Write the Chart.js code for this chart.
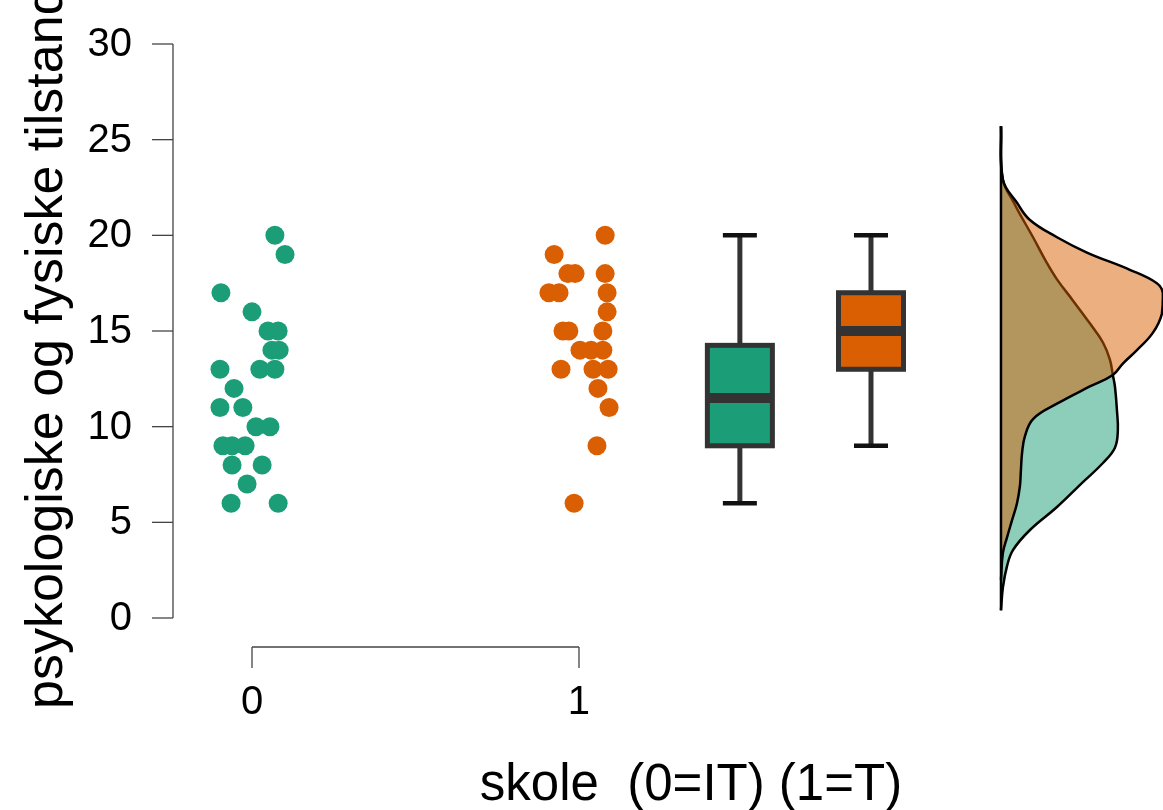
<!DOCTYPE html>
<html>
<head>
<meta charset="utf-8">
<script src="https://cdn.jsdelivr.net/npm/chart.js@4.4.1/dist/chart.umd.min.js"></script>
<style>
  html, body { margin: 0; padding: 0; background: #fff; overflow: hidden; }
  #wrap { width: 1163px; height: 810px; }
  canvas { display: block; }
</style>
</head>
<body>
<div id="wrap"><canvas id="chart" width="1163" height="810"></canvas></div>
<script>
// Raincloud plot: skole (0=IT) vs (1=T)

const groups = ['0', '1'];
const xTitle = 'skole  (0=IT) (1=T)';
const yTitle = 'psykologiske og fysiske tilstand';
const yTicks = [0, 5, 10, 15, 20, 25, 30];

const green = '#1b9e77';
const orange = '#d95f02';

// scores, with the jitter they were drawn with
const scoresIT = [20, 19, 17, 16, 15, 15, 14, 14, 13, 13, 13, 12, 11, 11, 10, 10, 9, 9, 9, 8, 8, 7, 6, 6];
const jitterIT = [0.070, 0.101, -0.095, 0.0, 0.049, 0.080, 0.061, 0.083, -0.098, 0.024, 0.070, -0.055,
    -0.098, -0.028, 0.012, 0.055, -0.089, -0.061, -0.021, -0.061, 0.031, -0.015, -0.064, 0.080];

const scoresT = [20, 19, 18, 18, 18, 17, 17, 17, 16, 15, 15, 15, 14, 14, 14, 13, 13, 13, 12, 11, 9, 6];
const jitterT = [0.080, -0.076, -0.034, -0.012, 0.080, -0.092, -0.061, 0.086, 0.086, -0.049, -0.031, 0.073,
    0.003, 0.037, 0.073, -0.055, 0.043, 0.089, 0.058, 0.092, 0.055, -0.015];

// box plot stats
const boxPos = [1.492, 1.893];
const boxMin = [6, 9];
const boxQ1 = [9, 13];
const boxMedian = [11.5, 15];
const boxQ3 = [14.25, 17];
const boxMax = [20, 20];

// half-violin (density): level -> relative density
const densLevelsIT = [25.7, 22.9, 21.7, 21.2, 19.9, 18.55, 17.7, 16.6, 15.4, 14.4, 13.5, 12.7, 12.1,
    10.9, 9.8, 8.9, 8.1, 7.1, 5.8, 4.6, 3.55, 2.7, 1.6, 0.4];
const densIT = [0, 0.012, 0.08, 0.111, 0.198, 0.284, 0.346, 0.444, 0.549, 0.630, 0.673, 0.691, 0.704,
    0.716, 0.722, 0.704, 0.630, 0.506, 0.346, 0.179, 0.074, 0.037, 0.012, 0];
const densLevelsT = [25.7, 22.9, 21.7, 20.8, 19.9, 19.1, 18.2, 17.5, 17.0, 15.9, 14.9, 14.0, 13.3, 12.7,
    12.1, 11.2, 10.4, 9.5, 8.6, 7.7, 6.9, 6.0, 5.1, 4.2, 3.4, 2.0];
const densT = [0, 0.012, 0.099, 0.179, 0.346, 0.531, 0.796, 0.963, 1.0, 0.994, 0.938, 0.840, 0.753, 0.691,
    0.549, 0.346, 0.198, 0.148, 0.130, 0.123, 0.117, 0.099, 0.068, 0.037, 0.012, 0];
const densBase = 2.2905;
const densWidth = 0.495;

const font = '"Liberation Sans", Arial, sans-serif';

function dots(scores, jitter, g) {
    return scores.map((s, i) => ({ x: g + jitter[i], y: s }));
}

function curve(levels, dens) {
    return levels.map((l, i) => ({ x: densBase + dens[i] * densWidth, y: l }));
}

const axesPlugin = {
    id: 'rainAxes',
    afterDatasetsDraw(chart) {
        const ctx = chart.ctx;
        const xs = chart.scales.x;
        const ys = chart.scales.y;
        const colors = [green, orange];

        const line = (x1, y1, x2, y2) => {
            ctx.beginPath();
            ctx.moveTo(x1, y1);
            ctx.lineTo(x2, y2);
            ctx.stroke();
        };

        ctx.save();
        // box plots
        boxPos.forEach((p, i) => {
            const cx = xs.getPixelForValue(p);
            const half = 32.5;
            const yMin = ys.getPixelForValue(boxMin[i]);
            const yQ1 = ys.getPixelForValue(boxQ1[i]);
            const yMed = ys.getPixelForValue(boxMedian[i]);
            const yQ3 = ys.getPixelForValue(boxQ3[i]);
            const yMax = ys.getPixelForValue(boxMax[i]);

            ctx.strokeStyle = '#333';
            ctx.lineWidth = 5;
            line(cx, yMax, cx, yQ3);
            line(cx, yQ1, cx, yMin);

            ctx.strokeStyle = '#111';
            ctx.lineWidth = 4.5;
            line(cx - 17, yMax, cx + 17, yMax);
            line(cx - 17, yMin, cx + 17, yMin);

            ctx.fillStyle = colors[i];
            ctx.fillRect(cx - half, yQ3, half * 2, yQ1 - yQ3);
            ctx.strokeStyle = '#333';
            ctx.lineWidth = 5;
            ctx.strokeRect(cx - half, yQ3, half * 2, yQ1 - yQ3);

            ctx.lineWidth = 10;
            line(cx - half, yMed, cx + half, yMed);
        });

        // y axis
        const ax = chart.chartArea.left;
        ctx.strokeStyle = '#444';
        ctx.lineWidth = 1.3;
        line(ax, ys.getPixelForValue(yTicks[0]), ax, ys.getPixelForValue(yTicks[yTicks.length - 1]));
        ctx.fillStyle = '#000';
        ctx.font = '40px ' + font;
        ctx.textAlign = 'right';
        ctx.textBaseline = 'middle';
        yTicks.forEach(t => {
            const y = ys.getPixelForValue(t);
            line(ax - 21, y, ax, y);
            ctx.fillText(String(t), ax - 41, y + 1);
        });

        // x axis
        const ay = chart.chartArea.bottom + 29;
        const x0 = xs.getPixelForValue(0);
        const x1 = xs.getPixelForValue(groups.length - 1);
        line(x0, ay, x1, ay);
        ctx.textAlign = 'center';
        groups.forEach((g, i) => {
            const x = xs.getPixelForValue(i);
            line(x, ay, x, ay + 21);
            ctx.fillText(g, x, ay + 56);
        });

        // titles
        ctx.font = '51px ' + font;
        ctx.textBaseline = 'alphabetic';
        ctx.fillText(xTitle, 691, 800);

        ctx.font = '52px ' + font;
        ctx.translate(62, 709);
        ctx.rotate(-Math.PI / 2);
        ctx.textAlign = 'left';
        ctx.fillText(yTitle, 0, 0);
        ctx.restore();
    }
};

new Chart(document.getElementById('chart'), {
    type: 'scatter',
    data: {
        datasets: [
            {
                label: 'density IT',
                type: 'line',
                data: curve(densLevelsIT, densIT),
                borderColor: '#000',
                borderWidth: 2.5,
                backgroundColor: 'rgba(27,158,119,0.5)',
                fill: 'shape',
                tension: 0.4,
                pointRadius: 0,
                clip: false,
                order: 5
            },
            {
                label: 'density T',
                type: 'line',
                data: curve(densLevelsT, densT),
                borderColor: '#000',
                borderWidth: 2.5,
                backgroundColor: 'rgba(217,95,2,0.5)',
                fill: 'shape',
                tension: 0.4,
                pointRadius: 0,
                clip: false,
                order: 4
            },
            {
                label: 'baseline',
                type: 'line',
                data: [{ x: densBase, y: densLevelsIT[0] }, { x: densBase, y: densLevelsIT[densLevelsIT.length - 1] }],
                borderColor: '#000',
                borderWidth: 2.5,
                pointRadius: 0,
                fill: false,
                clip: false,
                order: 3
            },
            {
                label: '0',
                data: dots(scoresIT, jitterIT, 0),
                backgroundColor: green,
                borderWidth: 0,
                pointRadius: 9.5,
                clip: false,
                order: 2
            },
            {
                label: '1',
                data: dots(scoresT, jitterT, 1),
                backgroundColor: orange,
                borderWidth: 0,
                pointRadius: 9.5,
                clip: false,
                order: 1
            }
        ]
    },
    options: {
        responsive: false,
        devicePixelRatio: 1,
        animation: false,
        layout: { autoPadding: false, padding: { left: 173, right: 0, top: 44, bottom: 192 } },
        plugins: {
            legend: { display: false },
            tooltip: { enabled: false }
        },
        scales: {
            x: { type: 'linear', min: -0.2416, max: 2.786, display: false },
            y: { type: 'linear', min: 0, max: 30, display: false }
        }
    },
    plugins: [axesPlugin]
});
</script>
</body>
</html>
